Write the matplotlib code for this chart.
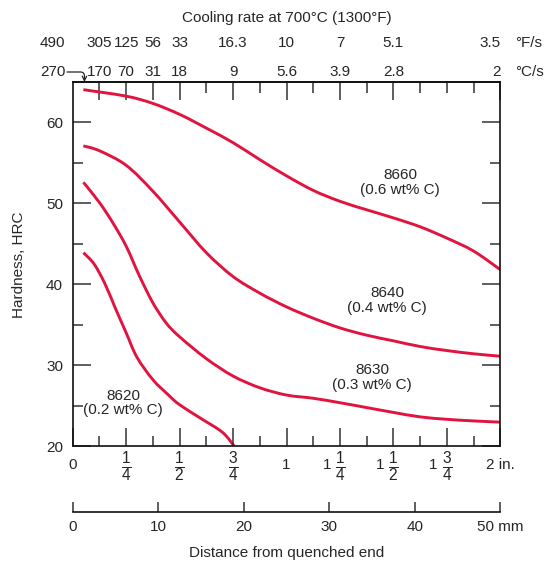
import matplotlib
matplotlib.use('Agg')
import matplotlib.pyplot as plt
from matplotlib.transforms import blended_transform_factory
from matplotlib.path import Path
from matplotlib.patches import PathPatch
import numpy as np

plt.rcParams['font.family'] = ['Liberation Sans', 'DejaVu Sans']
plt.rcParams['mathtext.fontset'] = 'custom'
plt.rcParams['mathtext.rm'] = 'Liberation Sans'
plt.rcParams['mathtext.it'] = 'Liberation Sans:italic'
plt.rcParams['mathtext.bf'] = 'Liberation Sans:bold'

# ---------------- data ----------------
x_8660 = [0.05, 0.25, 0.375, 0.5, 0.625, 0.75, 0.875, 1.0, 1.125, 1.25, 1.375, 1.5, 1.625, 1.75, 1.875, 2.0]
hrc_8660 = [64.05, 63.25, 62.35, 61.0, 59.3, 57.5, 55.4, 53.4, 51.6, 50.25, 49.2, 48.2, 47.1, 45.7, 44.1, 41.8]

x_8640 = [0.05, 0.125, 0.25, 0.375, 0.5, 0.625, 0.75, 0.875, 1.0, 1.125, 1.25, 1.375, 1.5, 1.625, 1.75, 1.875, 2.0]
hrc_8640 = [57.1, 56.5, 54.7, 51.5, 47.7, 43.9, 40.95, 38.9, 37.2, 35.8, 34.6, 33.7, 33.0, 32.3, 31.8, 31.4, 31.1]

x_8630 = [0.05, 0.125, 0.1875, 0.25, 0.3125, 0.375, 0.4375, 0.5, 0.625, 0.75, 0.875, 1.0, 1.125, 1.25, 1.375, 1.5, 1.625, 1.75, 1.875, 2.0]
hrc_8630 = [52.6, 50.1, 47.6, 44.7, 41.0, 37.7, 35.2, 33.5, 30.8, 28.65, 27.2, 26.3, 25.9, 25.35, 24.75, 24.15, 23.6, 23.3, 23.1, 22.95]

x_8620 = [0.05, 0.1, 0.15, 0.2, 0.25, 0.3, 0.375, 0.45, 0.5, 0.6, 0.7, 0.755]
hrc_8620 = [43.9, 42.5, 40.1, 37.0, 34.0, 31.0, 28.2, 26.25, 25.1, 23.4, 21.7, 20.0]

curve_names = ['8660\n(0.6 wt% C)', '8640\n(0.4 wt% C)', '8630\n(0.3 wt% C)', '8620\n(0.2 wt% C)']
label_x = [1.531, 1.470, 1.400, 0.236]
label_y = [52.6, 38.0, 28.5, 25.3]

inch_ticks = [0, 0.25, 0.5, 0.75, 1.0, 1.25, 1.5, 1.75, 2.0]
inch_whole = ['0', '', '', '', '1', '1', '1', '1', '2 in.']
inch_frac = ['', r'$\frac{1}{4}$', r'$\frac{1}{2}$', r'$\frac{3}{4}$', '', r'$\frac{1}{4}$', r'$\frac{1}{2}$', r'$\frac{3}{4}$', '']

mm_ticks = [0, 10, 20, 30, 40, 50]
mm_labels = ['0', '10', '20', '30', '40', '50 mm']

rate_pos = [0.125, 0.25, 0.375, 0.5, 0.75, 1.0, 1.25, 1.5, 2.0]
rate_F = ['305', '125', '56', '33', '16.3', '10', '7', '5.1', '3.5']
rate_C = ['170', '70', '31', '18', '9', '5.6', '3.9', '2.8', '2']
rate_short = [0.625, 0.875, 1.125, 1.375, 1.625, 1.75, 1.875]
first_rate_F = '490'
first_rate_C = '270'
first_rate_x = 0.055

y_major = [20, 30, 40, 50, 60]
y_minor = [25, 35, 45, 55]

# ---------------- style ----------------
RED = '#E0143F'
TXT = '#262626'
TCK = '#333333'
FS = 11

W, H = 548, 563
L, R, T, B = 72.7, 500.3, 82, 446

fig = plt.figure(figsize=(W / 100, H / 100), dpi=100)
ax = fig.add_axes([L / W, 1 - B / H, (R - L) / W, (B - T) / H])


def smooth_path(xs, ys):
    pts = np.column_stack([xs, ys]).astype(float)
    verts = [pts[0]]
    codes = [Path.MOVETO]
    n = len(pts)
    for i in range(n - 1):
        p0 = pts[i - 1] if i > 0 else pts[i]
        p1 = pts[i]
        p2 = pts[i + 1]
        p3 = pts[i + 2] if i + 2 < n else pts[i + 1]
        verts += [p1 + (p2 - p0) / 6.0, p2 - (p3 - p1) / 6.0, p2]
        codes += [Path.CURVE4] * 3
    return Path(verts, codes)


for xs, ys in [(x_8660, hrc_8660), (x_8640, hrc_8640), (x_8630, hrc_8630), (x_8620, hrc_8620)]:
    ax.add_patch(PathPatch(smooth_path(xs, ys), facecolor='none', edgecolor=RED,
                           lw=2.1, capstyle='butt', joinstyle='round'))

for name, lx, ly in zip(curve_names, label_x, label_y):
    ax.text(lx, ly, name, ha='center', va='center', multialignment='center',
            fontsize=FS, color=TXT, linespacing=1.05)

ax.set_xlim(0, 2)
ax.set_ylim(20, 65)
ax.set_yticks(y_major)
ax.set_yticks(y_minor, minor=True)
ax.set_xticks(inch_ticks)
ax.set_xticks(np.arange(0.125, 2, 0.25), minor=True)
ax.tick_params(which='major', direction='in', length=13, width=1.1, color=TCK,
               left=True, right=True, top=False, bottom=True,
               labelsize=FS, labelcolor=TXT, pad=7, labelbottom=False)
ax.tick_params(which='minor', direction='in', length=7.2, width=1.1, color=TCK,
               left=True, right=True, top=False, bottom=True)
for s in ax.spines.values():
    s.set_linewidth(1.2)
    s.set_color('#111111')

# top cooling-rate ticks
sec = ax.secondary_xaxis('top')
sec.set_xticks(rate_pos)
sec.set_xticks(rate_short, minor=True)
sec.tick_params(which='major', direction='in', length=13, width=1.1, color=TCK, labeltop=False)
sec.tick_params(which='minor', direction='in', length=8, width=1.1, color=TCK, labeltop=False)
sec.spines['top'].set_linewidth(1.2)

trans = blended_transform_factory(ax.transData, ax.transAxes)
yF = (B - 43) / (B - T)
yC = (B - 72) / (B - T)
for p, f, c in zip(rate_pos, rate_F, rate_C):
    ha = 'right' if p == 2.0 else 'center'
    xx = 2.003 if p == 2.0 else p
    ax.text(xx, yF, f, transform=trans, ha=ha, va='center', fontsize=FS, color=TXT)
    ax.text(xx, yC, c, transform=trans, ha=ha, va='center', fontsize=FS, color=TXT)
lab_x = (52.5 - L) / (R - L) * 2
ax.text(lab_x, yF, first_rate_F, transform=trans, ha='center', va='center', fontsize=FS, color=TXT)
ax.text(lab_x, yC, first_rate_C, transform=trans, ha='center', va='center', fontsize=FS, color=TXT)
ax.annotate('', xy=(first_rate_x, 1.0), xycoords=trans,
            xytext=((67 - L) / (R - L) * 2, yC), textcoords=trans,
            arrowprops=dict(arrowstyle='->', connectionstyle='angle,angleA=0,angleB=90,rad=4',
                            lw=0.9, color=TXT, shrinkA=0, shrinkB=0, mutation_scale=8))
unit_x = (515 - L) / (R - L) * 2
ax.text(unit_x, yF, '°F/s', transform=trans, ha='left', va='center', fontsize=FS, color=TXT)
ax.text(unit_x, yC, '°C/s', transform=trans, ha='left', va='center', fontsize=FS, color=TXT)
ax.text(1.0, (B - 18) / (B - T), 'Cooling rate at 700°C (1300°F)', transform=trans,
        ha='center', va='center', fontsize=FS, color=TXT)

# bottom inch labels
yb = (B - 465) / (B - T)
dx_whole = 9 / (R - L) * 2
for p, w, fr in zip(inch_ticks, inch_whole, inch_frac):
    if fr:
        ax.text(p, yb - 0.005, fr, transform=trans, ha='center', va='center', fontsize=16, color=TXT)
        if w:
            ax.text(p - dx_whole, yb, w, transform=trans, ha='right', va='center', fontsize=FS, color=TXT)
    else:
        ax.text(p, yb, w, transform=trans, ha='center', va='center', fontsize=FS, color=TXT)

# y label
fig.text(19 / W, 1 - 265 / H, 'Hardness, HRC', rotation=90, ha='center', va='center',
         fontsize=FS, color=TXT)

# mm axis
axm = fig.add_axes([L / W, 1 - 512 / H, (R - L) / W, 0.0001])
axm.set_xlim(0, 50)
axm.set_xticks(mm_ticks)
axm.set_xticklabels(mm_labels)
axm.set_yticks([])
for k in ['left', 'right', 'top']:
    axm.spines[k].set_visible(False)
axm.spines['bottom'].set_linewidth(1.2)
axm.spines['bottom'].set_color('#111111')
axm.patch.set_visible(False)
axm.tick_params(axis='x', direction='in', length=7.2, width=1.1, color=TCK,
                labelsize=FS, labelcolor=TXT, pad=6)

fig.text((L + R) / 2 / W, 1 - 553 / H, 'Distance from quenched end', ha='center', va='center',
         fontsize=FS, color=TXT)

fig.savefig('out.png', dpi=100)
